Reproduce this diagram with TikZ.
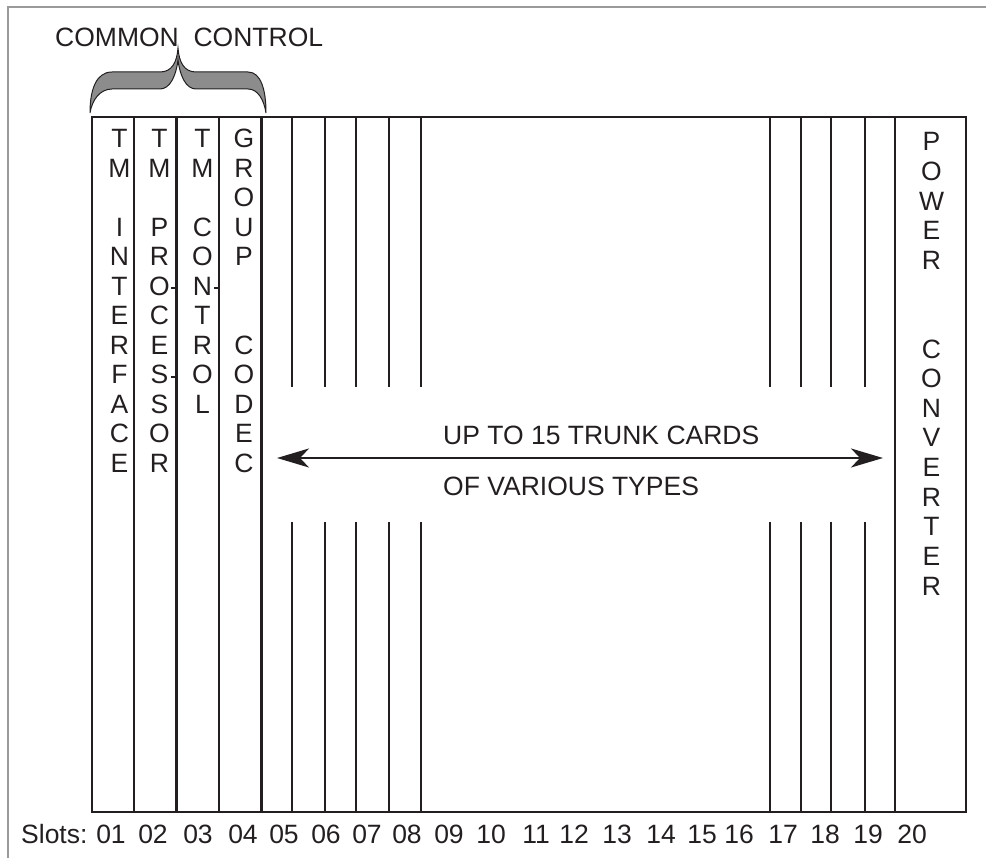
\documentclass[tikz,border=0pt]{standalone}
\usepackage{fontspec}
\setmainfont{Liberation Sans}
\usetikzlibrary{arrows.meta}
\definecolor{ink}{HTML}{231F20}
\definecolor{framegray}{HTML}{9A9A9A}
\definecolor{bracegray}{HTML}{8C8C8C}
\begin{document}
\begin{tikzpicture}[x=1pt,y=-1pt,
  card/.style={line width=2.5pt, draw=ink},
  tick/.style={line width=1.2pt, draw=ink},
  lab/.style={font=\fontsize{26.5}{30}\selectfont, text=ink, inner sep=0pt},
  letter/.style={lab, anchor=base},
  >={Stealth[length=32pt,width=19pt,inset=9pt]}]
\useasboundingbox (0,0) rectangle (986,858);
% outer frame
\draw[framegray, line width=1.5pt] (8,858) -- (8,7) -- (986,7);
% shelf
\draw[card] (92,117) rectangle (966,812);
\foreach \x in {134,176.5,219,261.5,895} \draw[card] (\x,117) -- (\x,812);
\foreach \x in {292,325,356,389,421,770,801,831,865} {
  \draw[card] (\x,117) -- (\x,387);
  \draw[card] (\x,522) -- (\x,812);
}
% small ticks
\draw[tick] (171,288) -- (176.5,288);
\draw[tick] (171,377) -- (176.5,377);
\draw[tick] (214,288) -- (219,288);
% brace
\draw[fill=bracegray, draw=ink, line width=1pt]
  (90,113) .. controls (90,90) and (96,72) .. (112,72) -- (160,72)
  .. controls (172,72) and (177,62) .. (178,48)
  .. controls (179,62) and (184,72) .. (196,72) -- (248,72)
  .. controls (261,72) and (266,90) .. (266,113)
  .. controls (264,100) and (258,89) .. (248,89) -- (196,89)
  .. controls (186,89) and (180,76) .. (178,60)
  .. controls (176,76) and (170,89) .. (160,89) -- (112,89)
  .. controls (100,89) and (92,100) .. (90,113) -- cycle;
\node[lab, anchor=base west] (cc) at (55,47) {COMMON\ \ CONTROL};
% vertical labels
\foreach \ch [count=\i] in {T,M,{},I,N,T,E,R,F,A,C,E}
  \node[letter] (ca\i) at (119.5,{148+(\i-1)*29.5}) {\ch};
\foreach \ch [count=\i] in {T,M,{},P,R,O,C,E,S,S,O,R}
  \node[letter] (cb\i) at (159.5,{148+(\i-1)*29.5}) {\ch};
\foreach \ch [count=\i] in {T,M,{},C,O,N,T,R,O,L}
  \node[letter] (cc\i) at (202.5,{148+(\i-1)*29.5}) {\ch};
\foreach \ch [count=\i] in {G,R,O,U,P,{},{},C,O,D,E,C}
  \node[letter] (cd\i) at (244,{148+(\i-1)*29.5}) {\ch};
\foreach \ch [count=\i] in {P,O,W,E,R,{},{},C,O,N,V,E,R,T,E,R}
  \node[letter] (ce\i) at (931.5,{151+(\i-1)*29.6}) {\ch};
% arrow and text
\coordinate (aL) at (277,458);
\coordinate (aR) at (883,458);
\draw[draw=ink, line width=2.2pt, <->] (aL) -- (aR);
\node[lab, anchor=base west] (t1) at (443,445) {UP TO 15 TRUNK CARDS};
\node[lab, anchor=base west] (t2) at (443,496) {OF VARIOUS TYPES};
% slots
\node[lab, anchor=base west] (slots) at (21,843) {Slots:};
\foreach \n/\x in {01/111,02/153,03/198,04/243,05/284,06/326,07/367,08/407,09/449,10/491,
  11/536,12/574,13/617,14/661,15/702,16/739,17/783,18/825,19/868,20/912}
  \node[lab, anchor=base] (s\n) at (\x,843) {\n};
\end{tikzpicture}
\end{document}
